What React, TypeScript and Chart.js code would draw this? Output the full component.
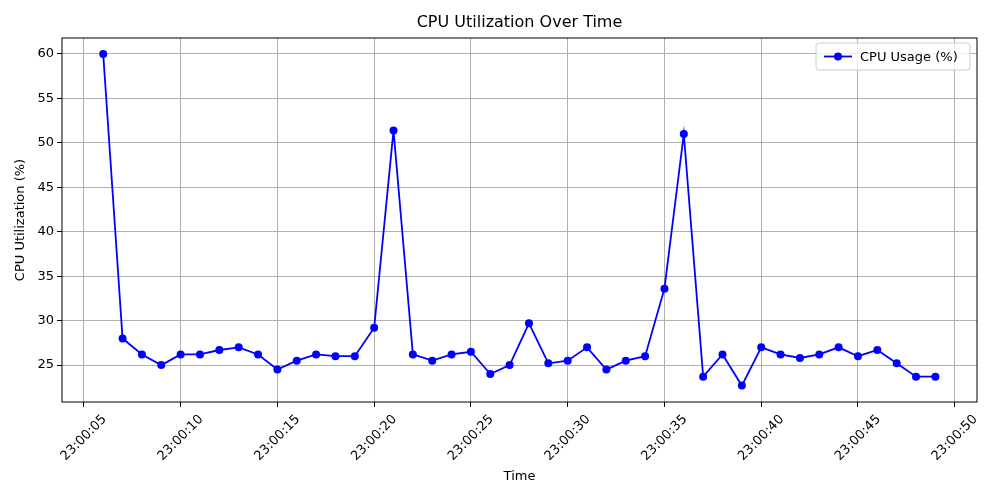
import { useEffect, useRef } from "react"
import { Chart, registerables } from "chart.js"

Chart.register(...registerables)

const seconds = [6, 7, 8, 9, 10, 11, 12, 13, 14, 15, 16, 17, 18, 19, 20, 21, 22, 23, 24, 25, 26, 27, 28, 29, 30, 31, 32, 33, 34, 35, 36, 37, 38, 39, 40, 41, 42, 43, 44, 45, 46, 47, 48, 49]
const cpuUsage = [60, 28, 26.2, 25, 26.2, 26.2, 26.7, 27, 26.2, 24.5, 25.5, 26.2, 26, 26, 29.2, 51.4, 26.2, 25.5, 26.2, 26.5, 24, 25, 29.7, 25.2, 25.5, 27, 24.5, 25.5, 26, 33.6, 51, 23.7, 26.2, 22.7, 27, 26.2, 25.8, 26.2, 27, 26, 26.7, 25.2, 23.7, 23.7]
const xTicks = [5, 10, 15, 20, 25, 30, 35, 40, 45, 50]
const yTicks = [25, 30, 35, 40, 45, 50, 55, 60]

const FONT = "'DejaVu Sans', sans-serif"
const fmt = (v: number) => `23:00:${String(v).padStart(2, "0")}`

const decor = {
  id: "decor",
  afterDraw(chart: Chart) {
    const { ctx, chartArea: a } = chart
    ctx.save()
    ctx.strokeStyle = "#000"
    ctx.lineWidth = 1
    ctx.strokeRect(a.left, a.top, a.right - a.left, a.bottom - a.top)
    ctx.fillStyle = "#000"
    ctx.font = `16px ${FONT}`
    ctx.textAlign = "center"
    ctx.textBaseline = "middle"
    ctx.fillText("CPU Utilization Over Time", (a.left + a.right) / 2, 23)
    // rotated x tick labels, centred on the tick like matplotlib
    ctx.font = `13px ${FONT}`
    const xs = chart.scales.x
    xTicks.forEach((v) => {
      const px = xs.getPixelForValue(v)
      ctx.save()
      ctx.translate(px, a.bottom + 36)
      ctx.rotate(-Math.PI / 4)
      ctx.fillText(fmt(v), 0, 0)
      ctx.restore()
    })
    ctx.fillText("Time", (a.left + a.right) / 2, 477)
    // legend
    const lx = 816, ly = 43, lw = 154, lh = 27
    ctx.fillStyle = "rgba(255,255,255,0.8)"
    ctx.strokeStyle = "#ccc"
    ctx.beginPath()
    ctx.roundRect(lx, ly, lw, lh, 3)
    ctx.fill()
    ctx.stroke()
    const cy = ly + lh / 2
    ctx.strokeStyle = "#0000ff"
    ctx.lineWidth = 1.8
    ctx.beginPath()
    ctx.moveTo(lx + 8, cy)
    ctx.lineTo(lx + 36, cy)
    ctx.stroke()
    ctx.fillStyle = "#0000ff"
    ctx.beginPath()
    ctx.arc(lx + 22, cy, 4, 0, Math.PI * 2)
    ctx.fill()
    ctx.fillStyle = "#000"
    ctx.textAlign = "left"
    ctx.fillText("CPU Usage (%)", lx + 44, cy + 1)
    ctx.restore()
  },
}

export default function App() {
  const ref = useRef<HTMLCanvasElement>(null)

  useEffect(() => {
    if (!ref.current) return
    const chart = new Chart(ref.current, {
      type: "line",
      data: {
        datasets: [
          {
            label: "CPU Usage (%)",
            data: seconds.map((s, i) => ({ x: s, y: cpuUsage[i] })),
            borderColor: "#0000ff",
            backgroundColor: "#0000ff",
            borderWidth: 1.8,
            pointRadius: 4,
            pointBorderWidth: 0,
            pointHoverRadius: 4,
            tension: 0,
          },
        ],
      },
      options: {
        animation: false,
        responsive: false,
        layout: { padding: { top: 38, right: 23, left: 0, bottom: 0 } },
        plugins: { legend: { display: false }, tooltip: { enabled: false } },
        scales: {
          x: {
            type: "linear",
            min: 3.87,
            max: 51.15,
            afterBuildTicks: (s: any) => { s.ticks = xTicks.map((v) => ({ value: v })) },
            afterFit: (s: any) => { s.height = 98 },
            ticks: { display: false },
            grid: { color: "#b0b0b0", tickColor: "#000", tickLength: 5 },
            border: { display: false },
          },
          y: {
            min: 20.85,
            max: 61.8,
            afterBuildTicks: (s: any) => { s.ticks = yTicks.map((v) => ({ value: v })) },
            afterFit: (s: any) => { s.width = 62 },
            ticks: { color: "#000", font: { family: FONT, size: 13 } },
            grid: { color: "#b0b0b0", tickColor: "#000", tickLength: 5 },
            border: { display: false },
            title: { display: true, text: "CPU Utilization (%)", color: "#000", font: { family: FONT, size: 13 }, padding: { top: 13, bottom: 0 } },
          },
        },
      },
      plugins: [decor],
    })
    return () => chart.destroy()
  }, [])

  return (
    <div style={{ position: "fixed", left: 0, top: 0, width: 1000, height: 500, background: "#fff" }}>
      <canvas ref={ref} width={1000} height={500} />
    </div>
  )
}
